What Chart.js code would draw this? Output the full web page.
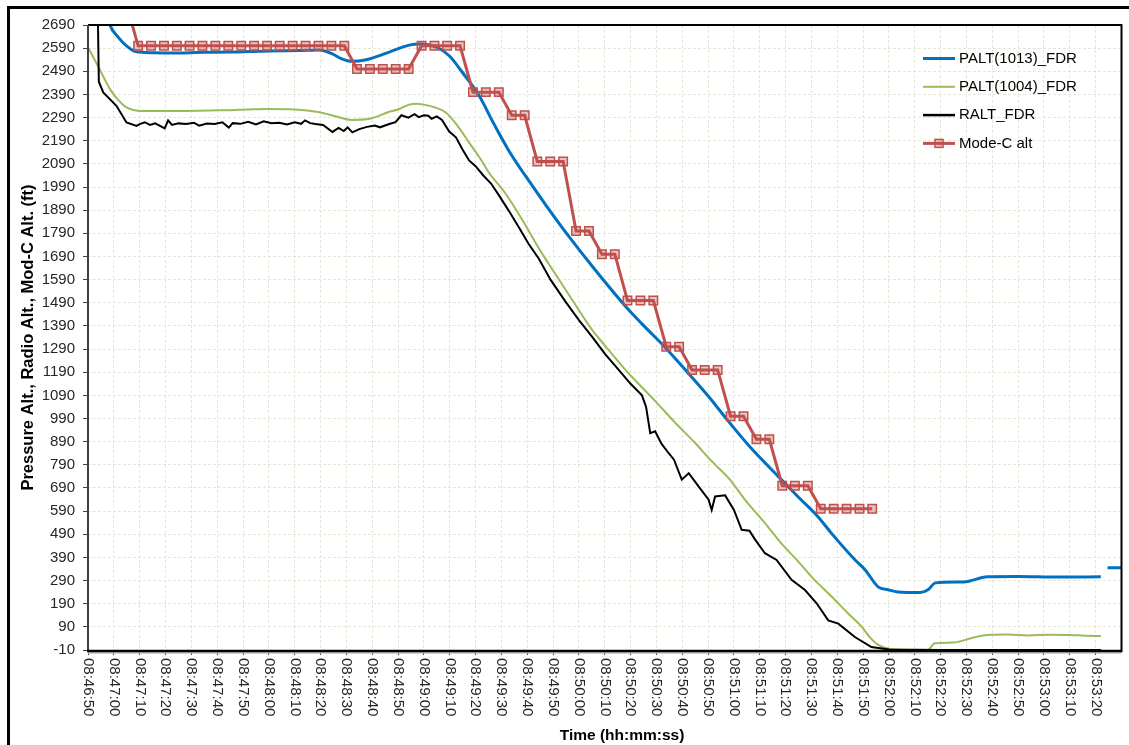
<!DOCTYPE html>
<html>
<head>
<meta charset="utf-8">
<title>Altitude</title>
<script src="https://cdn.jsdelivr.net/npm/chart.js@4.4.1/dist/chart.umd.min.js"></script>
<style>
  html, body { margin: 0; padding: 0; background: #fff; }
  canvas { display: block; }
</style>
</head>
<body>
<canvas id="grafico" width="1129" height="745"></canvas>
<script>
// tempo em segundos depois de 08:46:50
const INICIO = '08:46:50';

const xTickLabels = ['08:46:50', '08:47:00', '08:47:10', '08:47:20', '08:47:30', '08:47:40', '08:47:50',
  '08:48:00', '08:48:10', '08:48:20', '08:48:30', '08:48:40', '08:48:50',
  '08:49:00', '08:49:10', '08:49:20', '08:49:30', '08:49:40', '08:49:50',
  '08:50:00', '08:50:10', '08:50:20', '08:50:30', '08:50:40', '08:50:50',
  '08:51:00', '08:51:10', '08:51:20', '08:51:30', '08:51:40', '08:51:50',
  '08:52:00', '08:52:10', '08:52:20', '08:52:30', '08:52:40', '08:52:50',
  '08:53:00', '08:53:10', '08:53:20'];

const yTickValues = [-10, 90, 190, 290, 390, 490, 590, 690, 790, 890, 990, 1090, 1190, 1290, 1390,
  1490, 1590, 1690, 1790, 1890, 1990, 2090, 2190, 2290, 2390, 2490, 2590, 2690];

const palt1013Time = [7, 8.5, 11.5, 14.9, 18.8, 25, 31.7, 45, 54.8, 70, 81.9, 89.6, 94.6, 98, 102.3, 107.7,
  116.6, 124.3, 128.2, 134.7, 139.8, 144.8, 151.4, 157, 163, 172, 181.1, 184.9, 195, 208.1, 214.3, 223.6,
  232, 240.2, 246.7, 256, 267.2, 275, 282.6, 287.6, 296.9, 300.8, 305.8, 309.7, 313.5, 322, 325.1, 328,
  339, 348, 360, 375, 392, 393, 394.6, 400];
const palt1013Alt = [2760, 2690, 2640, 2600, 2574, 2570, 2569, 2572, 2573, 2578, 2580, 2582, 2565, 2545, 2533, 2540,
  2573, 2603, 2608, 2595, 2557, 2487, 2384, 2265, 2145, 1995, 1851, 1794, 1650, 1474, 1400, 1295,
  1190, 1085, 994, 870, 739, 650, 565, 496, 379, 336, 263, 250, 241, 238, 250, 280,
  284, 306, 308, 305, 306, null, 345, 345];

const palt1004Time = [0, 4, 8.5, 12, 14.9, 20, 28, 38, 47, 55, 62, 69, 80, 89.6, 96, 102, 109, 116.6, 120, 124.3,
  127, 130, 134, 138.5, 143, 147.5, 152, 155, 161.7, 168, 174.5, 181, 187.3, 195, 200.3, 208, 215.7, 220,
  227, 235, 241, 248.5, 254.3, 262, 268, 274.9, 281, 287.8, 294, 299.4, 303, 305.8, 310, 318, 325, 327.7,
  335, 341.7, 348, 356, 364, 372, 380, 386, 392];
const palt1004Alt = [2593, 2510, 2413, 2362, 2334, 2319, 2318, 2319, 2321, 2322, 2325, 2327, 2325, 2313, 2295, 2280, 2285, 2315, 2325, 2346,
  2350, 2346, 2335, 2312, 2255, 2182, 2110, 2055, 1960, 1850, 1725, 1612, 1504, 1375, 1302, 1200, 1110, 1060,
  975, 884, 810, 725, 639, 538, 455, 372, 295, 221, 150, 91, 40, 12, -5, -10, -10, 19,
  22, 41, 55, 57, 53, 56, 55, 52, 50];

const raltTime = [3.3, 4.2, 5.9, 11, 14.9, 18.8, 20, 22, 24, 26, 29.7, 31, 32.5, 35, 38, 41, 43, 46, 49, 52,
  54.5, 56, 59, 62, 65, 68, 71, 74, 77, 80, 82.5, 84, 86, 88, 91, 94.6, 97, 99, 100.5, 102.3,
  105, 108, 111, 113, 116.6, 119, 121.3, 124, 126.4, 128, 130, 131.7, 133, 135, 137, 139.8, 142.4, 144.9, 147.5, 150,
  153, 156, 159, 163, 166.8, 170.5, 174.5, 179, 184.8, 190, 195, 200, 205.4, 210, 214.4, 216, 217.6, 219.5, 222, 224.7,
  226.8, 229.8, 232.5, 236.3, 240.2, 241.4, 242.7, 246.6, 250, 253, 256, 258, 262, 266.5, 272.3, 277.5, 282, 286.5, 290.4, 296.8,
  303.2, 310, 330, 392];
const raltAlt = [3100, 2445, 2399, 2341, 2269, 2254, 2262, 2270, 2258, 2265, 2243, 2278, 2258, 2265, 2262, 2268, 2255, 2264, 2262, 2270,
  2247, 2266, 2263, 2272, 2260, 2274, 2266, 2268, 2260, 2270, 2263, 2278, 2266, 2262, 2258, 2228, 2245, 2232, 2248, 2226,
  2240, 2250, 2256, 2248, 2262, 2270, 2300, 2290, 2305, 2292, 2300, 2298, 2285, 2295, 2280, 2230, 2205, 2153, 2105, 2080,
  2040, 2005, 1955, 1885, 1815, 1745, 1680, 1590, 1495, 1415, 1345, 1270, 1200, 1140, 1090, 1040, 927, 935, 880, 841,
  812, 726, 754, 697, 639, 595, 653, 658, 595, 509, 505, 470, 408, 379, 293, 249, 192, 118, 104, 46,
  3, -8, -10, -10];

const modeCTime = [14.4, 19.4, 24.4, 29.4, 34.4, 39.3, 44.3, 49.3, 54.3, 59.3, 64.3, 69.3, 74.2, 79.2, 84.2, 89.2,
  94.2, 99.2, 104.1, 109.1, 114.1, 119.1, 124.1, 129.1, 134.1, 139.0, 144.0, 149.0, 154.0, 159.0, 164.0, 169.0,
  173.9, 178.9, 183.9, 188.9, 193.9, 198.9, 203.9, 208.8, 213.8, 218.8, 223.8, 228.8, 233.8, 238.7, 243.7, 248.7,
  253.7, 258.7, 263.7, 268.7, 273.6, 278.6, 283.6, 288.6, 293.6, 298.6, 303.5];
const modeCAlt = [2800, 2600, 2600, 2600, 2600, 2600, 2600, 2600, 2600, 2600, 2600, 2600, 2600, 2600, 2600, 2600,
  2600, 2600, 2500, 2500, 2500, 2500, 2500, 2600, 2600, 2600, 2600, 2400, 2400, 2400, 2300, 2300,
  2100, 2100, 2100, 1800, 1800, 1700, 1700, 1500, 1500, 1500, 1300, 1300, 1200, 1200, 1200, 1000,
  1000, 900, 900, 700, 700, 700, 600, 600, 600, 600, 600];

const AZUL = '#0070c0';
const VERDE = '#9bbb59';
const PRETO = '#000000';
const VERMELHO = '#c0504d';
const FONTE = '"Liberation Sans", Arial, sans-serif';

function segundos(hms) {
  const [h, m, s] = hms.split(':').map(Number);
  return h * 3600 + m * 60 + s;
}
const xTickSeconds = xTickLabels.map(l => segundos(l) - segundos(INICIO));

function pontos(tempos, valores) {
  return tempos.map((t, i) => ({ x: t, y: valores[i] }));
}

const legendItems = [
  { label: 'PALT(1013)_FDR', color: AZUL, width: 3 },
  { label: 'PALT(1004)_FDR', color: VERDE, width: 2 },
  { label: 'RALT_FDR', color: PRETO, width: 2.5 },
  { label: 'Mode-C alt', color: VERMELHO, width: 3, marker: true }
];

const moldura = {
  id: 'moldura',
  beforeDraw(chart) {
    const c = chart.ctx;
    c.save();
    c.fillStyle = '#fff';
    c.fillRect(0, 0, chart.width, chart.height);
    c.restore();
  },
  afterDraw(chart) {
    const c = chart.ctx;
    const a = chart.chartArea;
    const xs = chart.scales.x;
    c.save();

    // moldura externa
    c.strokeStyle = '#000';
    c.lineWidth = 3;
    c.beginPath();
    c.moveTo(8.5, chart.height + 2);
    c.lineTo(8.5, 7.5);
    c.lineTo(chart.width + 2, 7.5);
    c.stroke();

    // borda da area do grafico
    c.lineWidth = 2;
    c.beginPath();
    c.moveTo(a.left, a.top);
    c.lineTo(a.right, a.top);
    c.lineTo(a.right, a.bottom);
    c.stroke();
    c.strokeStyle = '#404040';
    c.beginPath();
    c.moveTo(a.left, a.top);
    c.lineTo(a.left, a.bottom + 1);
    c.stroke();
    c.strokeStyle = '#bdbdbd';
    c.lineWidth = 1.5;
    c.beginPath();
    c.moveTo(a.left, a.bottom + 3);
    c.lineTo(a.right, a.bottom + 3);
    c.stroke();
    c.strokeStyle = '#000';
    c.lineWidth = 2.5;
    c.beginPath();
    c.moveTo(a.left - 1, a.bottom + 1);
    c.lineTo(a.right + 1, a.bottom + 1);
    c.stroke();

    // rotulos do eixo x, girados 90 graus
    c.fillStyle = '#262626';
    c.font = '15px ' + FONTE;
    c.textAlign = 'left';
    c.textBaseline = 'middle';
    xTickLabels.forEach((lbl, i) => {
      const x = xs.getPixelForValue(xTickSeconds[i]);
      c.save();
      c.translate(x, a.bottom + 8);
      c.rotate(Math.PI / 2);
      c.fillText(lbl, 0, 0);
      c.restore();
    });

    // titulo do eixo x
    c.fillStyle = '#000';
    c.font = 'bold 15.5px ' + FONTE;
    c.textAlign = 'center';
    c.fillText('Time (hh:mm:ss)', 622, 736);

    // legenda
    c.font = '15px ' + FONTE;
    c.textAlign = 'left';
    legendItems.forEach((item, i) => {
      const y = 58.5 + i * 28.3;
      c.strokeStyle = item.color;
      c.lineWidth = item.width;
      c.beginPath();
      c.moveTo(923, y);
      c.lineTo(955, y);
      c.stroke();
      if (item.marker) {
        c.fillStyle = 'rgba(192,80,77,0.35)';
        c.fillRect(935, y - 4, 8, 8);
        c.lineWidth = 1.5;
        c.strokeRect(935, y - 4, 8, 8);
      }
      c.fillStyle = '#000';
      c.fillText(item.label, 959, y);
    });

    c.restore();
  }
};

const ctx = document.getElementById('grafico').getContext('2d');
Chart.defaults.font.family = FONTE;

const chart = new Chart(ctx, {
  type: 'line',
  data: {
    datasets: [
      {
        label: 'PALT(1013)_FDR',
        data: pontos(palt1013Time, palt1013Alt),
        borderColor: AZUL,
        borderWidth: 3,
        pointRadius: 0,
        cubicInterpolationMode: 'monotone',
        spanGaps: false,
        order: 4
      },
      {
        label: 'PALT(1004)_FDR',
        data: pontos(palt1004Time, palt1004Alt),
        borderColor: VERDE,
        borderWidth: 2,
        pointRadius: 0,
        cubicInterpolationMode: 'monotone',
        order: 3
      },
      {
        label: 'RALT_FDR',
        data: pontos(raltTime, raltAlt),
        borderColor: PRETO,
        borderWidth: 2,
        pointRadius: 0,
        tension: 0,
        order: 2
      },
      {
        label: 'Mode-C alt',
        data: pontos(modeCTime, modeCAlt),
        borderColor: VERMELHO,
        borderWidth: 3,
        pointStyle: 'rect',
        pointRadius: 6,
        pointBorderWidth: 1.5,
        pointBorderColor: VERMELHO,
        pointBackgroundColor: 'rgba(192,80,77,0.35)',
        tension: 0,
        order: 1
      }
    ]
  },
  options: {
    responsive: false,
    devicePixelRatio: 1,
    animation: false,
    events: [],
    layout: { padding: { top: 25, right: 6, bottom: 0, left: 0 } },
    scales: {
      x: {
        type: 'linear',
        min: 0,
        max: 400,
        afterBuildTicks: s => { s.ticks = xTickSeconds.map(v => ({ value: v })); },
        afterFit: s => { s.height = 95; },
        ticks: { display: false },
        grid: { color: '#e6e6d9', lineWidth: 1, tickLength: 5, tickColor: '#404040' },
        border: { display: false, dash: [3, 2] },
        title: { display: false }
      },
      y: {
        type: 'linear',
        min: -10,
        max: 2690,
        afterBuildTicks: s => { s.ticks = yTickValues.map(v => ({ value: v })); },
        afterFit: s => { s.width = 88; },
        ticks: { color: '#262626', font: { size: 15 }, padding: 8, callback: v => String(v) },
        grid: { color: '#e6e6d9', lineWidth: 1, tickLength: 5, tickColor: '#404040' },
        border: { display: false, dash: [3, 2] },
        title: {
          display: true,
          text: 'Pressure Alt., Radio Alt., Mod-C Alt. (ft)',
          color: '#000',
          font: { size: 16.5, weight: 'bold' },
          padding: { top: 19, bottom: 0 }
        }
      }
    },
    plugins: {
      legend: { display: false },
      tooltip: { enabled: false }
    }
  },
  plugins: [moldura]
});
</script>
</body>
</html>
